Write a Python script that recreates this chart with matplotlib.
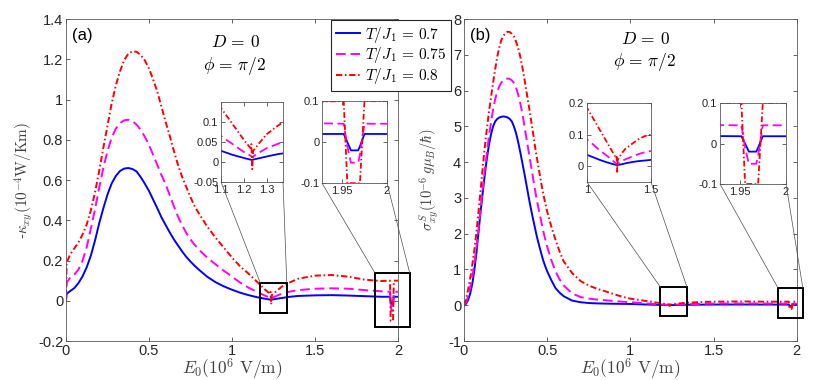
import matplotlib.pyplot as plt
from matplotlib.patches import Rectangle, ConnectionPatch

plt.rcParams['font.family'] = ['Liberation Sans', 'DejaVu Sans']
plt.rcParams['mathtext.fontset'] = 'cm'
plt.rcParams['axes.unicode_minus'] = False

# ---- data ----
labels = [r'$T/J_1\,{=}\,0.7$', r'$T/J_1\,{=}\,0.75$', r'$T/J_1\,{=}\,0.8$']

# panel (a): -kappa_xy
xa = [0, 0.004, 0.025, 0.05, 0.075, 0.1, 0.125, 0.15, 0.175, 0.2, 0.225, 0.25,
      0.275, 0.3, 0.325, 0.35, 0.375, 0.4, 0.425, 0.45, 0.475, 0.5, 0.525,
      0.55, 0.575, 0.6, 0.625, 0.65, 0.675, 0.7, 0.725, 0.75, 0.775, 0.8,
      0.85, 0.9, 0.95, 1.0, 1.05, 1.1, 1.15, 1.2, 1.228, 1.232, 1.236, 1.24,
      1.27, 1.3, 1.35, 1.4, 1.5, 1.6, 1.7, 1.8, 1.9, 1.95, 1.952, 1.956, 1.96,
      1.968, 1.97, 1.975, 2.0]
ka_07 = [0, 0.035, 0.048, 0.063, 0.088, 0.122, 0.167, 0.225, 0.3, 0.385, 0.46,
         0.528, 0.583, 0.62, 0.645, 0.657, 0.66, 0.655, 0.643, 0.615, 0.582,
         0.546, 0.503, 0.46, 0.415, 0.377, 0.34, 0.305, 0.275, 0.245, 0.218,
         0.195, 0.174, 0.155, 0.12, 0.093, 0.072, 0.055, 0.04, 0.028, 0.018,
         0.01, 0.006, 0.005, 0.005, 0.006, 0.01, 0.014, 0.02, 0.024, 0.027,
         0.028, 0.026, 0.023, 0.02, 0.02, 0.02, 0.0, -0.02, -0.02, -0.01, 0.02,
         0.02]
ka_075 = [0, 0.09, 0.115, 0.13, 0.155, 0.2, 0.267, 0.36, 0.455, 0.562, 0.66,
          0.745, 0.81, 0.855, 0.883, 0.897, 0.9, 0.893, 0.876, 0.85, 0.815,
          0.775, 0.725, 0.676, 0.625, 0.58, 0.525, 0.47, 0.418, 0.375, 0.337,
          0.305, 0.278, 0.255, 0.215, 0.182, 0.15, 0.12, 0.09, 0.065, 0.045,
          0.025, 0.016, 0.014, 0.012, 0.014, 0.025, 0.035, 0.046, 0.053, 0.06,
          0.062, 0.06, 0.053, 0.047, 0.045, 0.045, -0.01, -0.05, -0.05, -0.03,
          0.045, 0.045]
ka_08 = [0, 0.19, 0.23, 0.26, 0.29, 0.33, 0.38, 0.45, 0.54, 0.645, 0.76, 0.87,
         0.98, 1.07, 1.14, 1.195, 1.228, 1.24, 1.238, 1.222, 1.195, 1.155, 1.1,
         1.04, 0.965, 0.89, 0.82, 0.745, 0.675, 0.615, 0.565, 0.515, 0.47,
         0.435, 0.37, 0.315, 0.265, 0.215, 0.17, 0.135, 0.095, 0.055, 0.035,
         0.045, -0.018, 0.028, 0.05, 0.07, 0.092, 0.11, 0.125, 0.128, 0.12,
         0.105, 0.098, 0.1, 0.1, -0.1, -0.1, -0.1, -0.1, 0.1, 0.1]

# panel (b): sigma^S_xy
xb = [0, 0.0125, 0.025, 0.0375, 0.05, 0.0625, 0.075, 0.0875, 0.1, 0.1125,
      0.125, 0.1375, 0.15, 0.1625, 0.175, 0.1875, 0.2, 0.2125, 0.225, 0.2375,
      0.25, 0.2625, 0.275, 0.2875, 0.3, 0.3125, 0.325, 0.3375, 0.35, 0.3625,
      0.375, 0.3875, 0.4, 0.4125, 0.425, 0.4375, 0.45, 0.4625, 0.475, 0.4875,
      0.5, 0.525, 0.55, 0.575, 0.6, 0.65, 0.7, 0.75, 0.8, 0.85, 0.9, 0.95,
      1.0, 1.05, 1.1, 1.15, 1.2, 1.228, 1.232, 1.236, 1.24, 1.27, 1.3, 1.35,
      1.4, 1.45, 1.5, 1.6, 1.7, 1.8, 1.9, 1.95, 1.952, 1.956, 1.96, 1.968,
      1.97, 1.975, 2.0]
sb_07 = [0, 0.04, 0.15, 0.33, 0.6, 0.98, 1.47, 2.05, 2.62, 3.15, 3.65, 4.1,
         4.48, 4.78, 5.0, 5.14, 5.21, 5.25, 5.27, 5.28, 5.27, 5.25, 5.21, 5.14,
         5.0, 4.82, 4.58, 4.3, 4.0, 3.7, 3.38, 3.06, 2.75, 2.47, 2.2, 1.93,
         1.7, 1.48, 1.27, 1.1, 0.95, 0.7, 0.48, 0.35, 0.25, 0.13, 0.085, 0.062,
         0.052, 0.046, 0.042, 0.039, 0.036, 0.028, 0.02, 0.013, 0.007, 0.004,
         0.003, 0.003, 0.004, 0.006, 0.009, 0.013, 0.016, 0.018, 0.02, 0.021,
         0.021, 0.02, 0.019, 0.018, 0.018, 0.0, -0.02, -0.02, -0.01, 0.018,
         0.018]
sb_075 = [0, 0.08, 0.25, 0.5, 0.8, 1.17, 1.62, 2.13, 2.7, 3.25, 3.77, 4.26,
          4.72, 5.12, 5.47, 5.76, 5.97, 6.12, 6.23, 6.3, 6.33, 6.34, 6.33,
          6.29, 6.22, 6.1, 5.9, 5.67, 5.38, 5.04, 4.68, 4.33, 3.98, 3.63, 3.28,
          2.95, 2.66, 2.38, 2.1, 1.86, 1.64, 1.26, 0.95, 0.72, 0.55, 0.33, 0.23,
          0.185, 0.16, 0.14, 0.12, 0.1, 0.085, 0.068, 0.05, 0.035, 0.018,
          0.008, 0.006, 0.005, 0.007, 0.015, 0.022, 0.03, 0.038, 0.044, 0.048,
          0.05, 0.05, 0.048, 0.046, 0.045, 0.045, -0.01, -0.05, -0.05, -0.03,
          0.045, 0.045]
sb_08 = [0, 0.18, 0.44, 0.76, 1.13, 1.55, 2.05, 2.62, 3.22, 3.85, 4.42, 4.93,
         5.4, 5.82, 6.22, 6.6, 6.95, 7.22, 7.42, 7.54, 7.61, 7.65, 7.64, 7.59,
         7.52, 7.38, 7.2, 6.97, 6.68, 6.35, 6.0, 5.64, 5.27, 4.9, 4.5, 4.14,
         3.8, 3.46, 3.15, 2.87, 2.62, 2.2, 1.83, 1.5, 1.22, 0.9, 0.68, 0.55,
         0.46, 0.39, 0.31, 0.24, 0.185, 0.15, 0.115, 0.08, 0.045, 0.025, 0.03,
         -0.018, 0.02, 0.04, 0.055, 0.07, 0.085, 0.095, 0.1, 0.105, 0.105, 0.1,
         0.1, 0.1, 0.1, -0.1, -0.1, -0.1, -0.1, 0.1, 0.1]

colors = ['#0000ff', '#ff00ff', '#ff0000']
styles = ['-', (0, (5, 2.5)), (0, (3.2, 1.4, 0.8, 1.4))]


def style_ax(ax, xt, yt, fs):
    ax.set_xticks(xt)
    ax.set_xticklabels([f'{v:g}' for v in xt])
    ax.set_yticks(yt)
    ax.set_yticklabels([f'{v:g}' for v in yt])
    ax.tick_params(direction='in', top=True, right=True, length=3, width=0.5,
                   labelsize=fs, pad=2, colors='0.15')
    for s in ax.spines.values():
        s.set_linewidth(0.6)
        s.set_color('0.35')


def draw(ax, x, ys, lw=1.4):
    lines = []
    for y, c, ls, lab in zip(ys, colors, styles, labels):
        l, = ax.plot(x, y, color=c, ls=ls, lw=lw, label=lab)
        lines.append(l)
    return lines


def zoom_box(fig, ax, inset, box):
    x0, x1, y0, y1 = box
    ax.add_patch(Rectangle((x0, y0), x1 - x0, y1 - y0, fill=False, ec='k',
                           lw=1.4, clip_on=False, zorder=5))
    for fx, bx in ((0, x0), (1, x1)):
        cp = ConnectionPatch(xyA=(fx, 0), coordsA=inset.transAxes,
                             xyB=(bx, y1), coordsB=ax.transData,
                             color='0.3', lw=0.5)
        fig.add_artist(cp)


fig = plt.figure(figsize=(8.3, 3.8), dpi=100)

# ---------- panel (a) ----------
axa = fig.add_axes([0.0795, 0.1026, 0.4, 0.847])
lines = draw(axa, xa, [ka_07, ka_075, ka_08])
axa.set_xlim(0, 2)
axa.set_ylim(-0.2, 1.4)
style_ax(axa, [0, 0.5, 1, 1.5, 2], [-0.2, 0, 0.2, 0.4, 0.6, 0.8, 1, 1.2, 1.4], 10.5)
axa.set_xlabel(r'$E_0(10^6\ \mathrm{V/m})$', fontsize=12.5, labelpad=-1, color='0.25')
axa.set_ylabel(r'-$\kappa_{xy}(10^{-4}\mathrm{W/Km})$', fontsize=11, labelpad=2, color='0.25')
axa.text(0.018, 0.95, '(a)', transform=axa.transAxes, fontsize=12, va='center')
axa.text(0.509, 0.93, r'$D\,{=}\,0$', transform=axa.transAxes, fontsize=12.5, ha='center', va='center')
axa.text(0.509, 0.855, r'$\phi\,{=}\,\pi/2$', transform=axa.transAxes, fontsize=12.5, ha='center', va='center')

ia1 = fig.add_axes([0.2663, 0.521, 0.0747, 0.2105])
draw(ia1, xa, [ka_07, ka_075, ka_08], lw=1.3)
ia1.set_xlim(1.1, 1.37)
ia1.set_ylim(-0.05, 0.15)
style_ax(ia1, [1.1, 1.2, 1.3], [-0.05, 0, 0.05, 0.1], 8)
zoom_box(fig, axa, ia1, (1.17, 1.33, -0.06, 0.09))

ia2 = fig.add_axes([0.388, 0.518, 0.0783, 0.2158])
draw(ia2, xa, [ka_07, ka_075, ka_08], lw=1.3)
ia2.set_xlim(1.928, 2)
ia2.set_ylim(-0.1, 0.1)
style_ax(ia2, [1.95, 2], [-0.1, 0, 0.1], 8)
zoom_box(fig, axa, ia2, (1.86, 2.07, -0.13, 0.14))

# ---------- panel (b) ----------
axb = fig.add_axes([0.559, 0.1026, 0.401, 0.847])
draw(axb, xb, [sb_07, sb_075, sb_08])
axb.set_xlim(0, 2)
axb.set_ylim(-1, 8)
style_ax(axb, [0, 0.5, 1, 1.5, 2], list(range(-1, 9)), 10.5)
axb.set_xlabel(r'$E_0(10^6\ \mathrm{V/m})$', fontsize=12.5, labelpad=-1, color='0.25')
axb.set_ylabel(r'$\sigma^S_{xy}(10^{-6}\,g\mu_B/\hbar)$', fontsize=10.5, labelpad=5, color='0.25')
axb.text(0.018, 0.95, '(b)', transform=axb.transAxes, fontsize=12, va='center')
axb.text(0.544, 0.938, r'$D\,{=}\,0$', transform=axb.transAxes, fontsize=12.5, ha='center', va='center')
axb.text(0.544, 0.866, r'$\phi\,{=}\,\pi/2$', transform=axb.transAxes, fontsize=12.5, ha='center', va='center')

ib1 = fig.add_axes([0.7072, 0.521, 0.0771, 0.208])
draw(ib1, xb, [sb_07, sb_075, sb_08], lw=1.3)
ib1.set_xlim(1, 1.5)
ib1.set_ylim(-0.05, 0.2)
style_ax(ib1, [1, 1.5], [0, 0.1, 0.2], 8)
zoom_box(fig, axb, ib1, (1.18, 1.34, -0.3, 0.51))

ib2 = fig.add_axes([0.8675, 0.5158, 0.0795, 0.213])
draw(ib2, xb, [sb_07, sb_075, sb_08], lw=1.3)
ib2.set_xlim(1.929, 2)
ib2.set_ylim(-0.1, 0.1)
style_ax(ib2, [1.95, 2], [-0.1, 0, 0.1], 8)
zoom_box(fig, axb, ib2, (1.886, 2.036, -0.35, 0.49))

leg = fig.legend(handles=lines, loc='upper left', bbox_to_anchor=(0.3988, 0.947),
                 fontsize=11, frameon=True, fancybox=False, framealpha=1,
                 edgecolor='0.15', handlelength=1.6, handletextpad=0.3,
                 borderpad=0.3, labelspacing=0.05, borderaxespad=0)
leg.get_frame().set_linewidth(0.8)
leg.set_zorder(10)

fig.savefig('out.png', dpi=100)
